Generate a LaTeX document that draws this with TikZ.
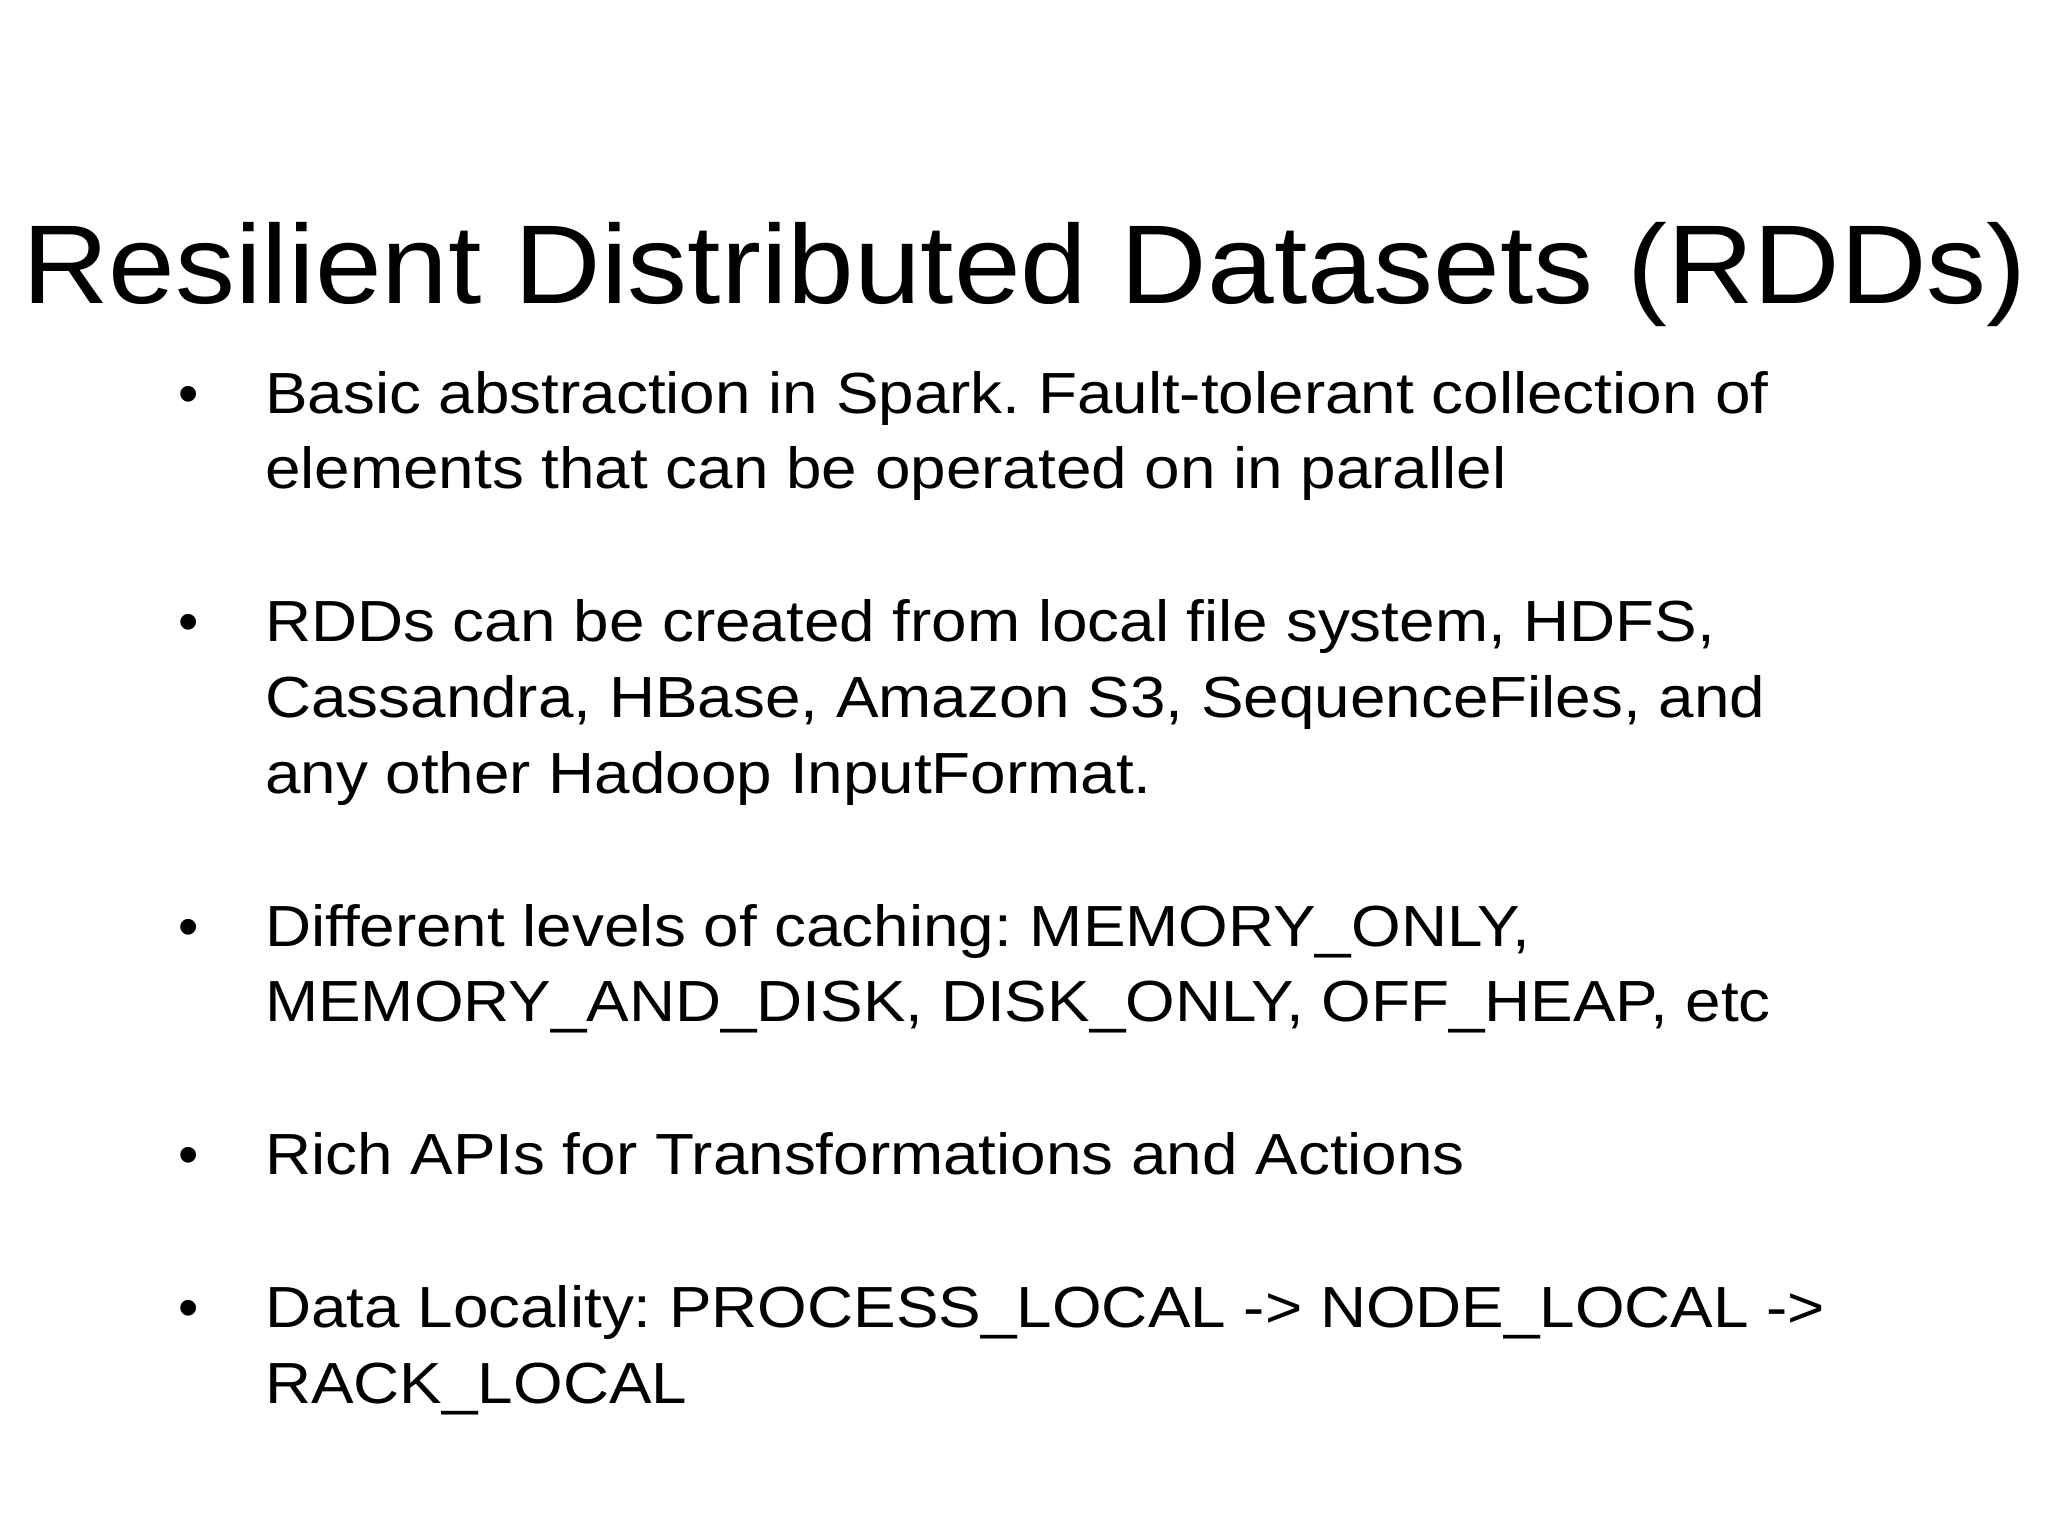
\documentclass[tikz,border=0pt]{standalone}
\usepackage{fontspec}
\setmainfont{Liberation Sans}
\begin{document}
\frenchspacing
\begin{tikzpicture}[x=1pt,y=-1pt,
  ln/.style={anchor=base west,inner sep=0pt,font=\fontsize{58}{70}\selectfont},
  bul/.style={anchor=base,inner sep=0pt,font=\fontsize{58}{70}\selectfont}]
\fill[white] (0,0) rectangle (2048,1536);
\node[anchor=base west,inner sep=0pt,font=\fontsize{112}{130}\selectfont] (title) at (22,303) {\scalebox{1.07}[1]{Resilient Distributed Datasets (RDDs)}};
\foreach \y/\t [count=\i] in {
 413/{Basic abstraction in Spark. Fault-tolerant collection of},
 488/{elements that can be operated on in parallel},
 641/{RDDs can be created from local file system, HDFS,},
 717/{Cassandra, HBase, Amazon S3, SequenceFiles, and},
 793/{any other Hadoop InputFormat.},
 946/{Different levels of caching: MEMORY\_ONLY,},
 1021/{MEMORY\_AND\_DISK, DISK\_ONLY, OFF\_HEAP, etc},
 1174/{Rich APIs for Transformations and Actions},
 1327/{Data Locality: PROCESS\_LOCAL -> NODE\_LOCAL ->},
 1403/{RACK\_LOCAL}}
 \node[ln] (l\i) at (265,\y) {\scalebox{1.1}[1]{\t}};
\foreach \y [count=\i] in {413,641,946,1174,1327}
 \node[bul] (b\i) at (189,\y) {•};
\end{tikzpicture}
\end{document}
